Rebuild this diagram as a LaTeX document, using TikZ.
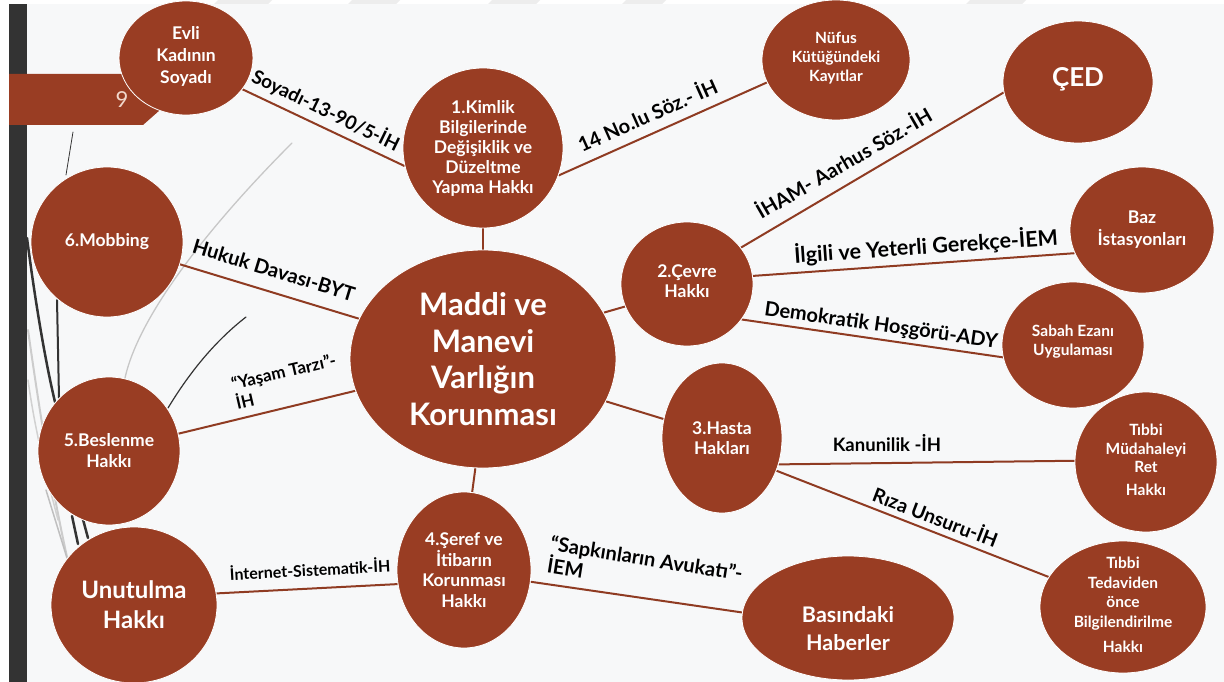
\documentclass[tikz,border=0pt]{standalone}
\usepackage{fontspec}
\setmainfont{Lato}
\usetikzlibrary{shapes.geometric,calc}
\definecolor{brn}{HTML}{993D23}
\definecolor{lnc}{HTML}{8F3B22}
\definecolor{slidebg}{HTML}{F7F8F9}
\definecolor{barc}{HTML}{333333}
\definecolor{tabtxt}{HTML}{F2D8CC}
\newcommand{\fsz}[2]{\bfseries\fontsize{#1}{#2}\selectfont}
\pgfdeclarelayer{back}
\pgfdeclarelayer{bg}
\pgfsetlayers{back,bg,main}
\begin{document}
\begin{tikzpicture}[x=1pt,y=-1pt,
  bub/.style={ellipse, fill=brn, draw=white, line width=0.8pt, inner sep=0pt},
  btxt/.style={text=white, align=center, inner sep=0pt},
  conn/.style={draw=lnc, line width=2pt},
  lbl/.style={text=black, inner sep=0pt},
  deco/.style={line cap=round}
]
\useasboundingbox (0,0) rectangle (1224,682);
\begin{pgfonlayer}{back}
  \fill[white] (0,0) rectangle (1224,682);
  \fill[slidebg] (27,4) rectangle (1224,682);
  \fill[black!7] (218,0) -- (272,0) -- (268,4) -- (214,4) -- cycle;
  \fill[black!7] (352,0) -- (400,0) -- (396,4) -- (348,4) -- cycle;
  \fill[black!7] (492,0) -- (540,0) -- (536,4) -- (488,4) -- cycle;
  \fill[black!7] (626,0) -- (666,0) -- (662,4) -- (622,4) -- cycle;
  \fill[black!7] (970,0) -- (1026,0) -- (1022,4) -- (966,4) -- cycle;
  \fill[barc] (9,4) rectangle (27,682);
  % decorative strokes
  \draw[deco, black!22, line width=1.3pt] (292,143) .. controls (220,215) and (140,310) .. (125,378);
  \draw[deco, barc, line width=1.2pt] (246,317) .. controls (210,345) and (185,380) .. (168,408);
  \draw[deco, barc, line width=0.8pt] (73,132) -- (66,175);
  \draw[deco, barc, line width=2.5pt] (27,238) .. controls (35,300) and (45,360) .. (55,402);
  \draw[deco, barc, line width=2pt] (57,300) -- (59,398);
  \draw[deco, black!20, line width=2pt] (28,330) .. controls (38,400) and (50,480) .. (67,557);
  \draw[deco, black!18, line width=1.5pt] (28,380) .. controls (35,430) and (45,470) .. (58,520);
  \draw[deco, black!25, line width=1.5pt] (46,490) -- (67,558);
  \draw[deco, barc, line width=2.5pt] (72,516) -- (78,544);
  \draw[deco, barc, line width=2.5pt] (81,512) -- (88,538);
  % page tab
  \fill[brn] (9,74) -- (160,74) -- (160,110) -- (143,125) -- (9,125) -- cycle;
\end{pgfonlayer}
\node[text=tabtxt, inner sep=0pt, font=\fontsize{22}{22}\selectfont] (pgnum) at (122,100) {9};

% bubbles
\node[bub, minimum width=134pt, minimum height=114pt] (evli) at (186,58) {};
\node[bub, minimum width=160pt, minimum height=160pt] (kimlik) at (483,148) {};
\node[bub, minimum width=148pt, minimum height=120pt] (nufus) at (836,60) {};
\node[bub, minimum width=150pt, minimum height=122pt] (ced) at (1078,82) {};
\node[bub, minimum width=144pt, minimum height=126pt] (baz) at (1142,230) {};
\node[bub, minimum width=142pt, minimum height=126pt] (sabah) at (1073,345) {};
\node[bub, minimum width=142pt, minimum height=140pt] (mudahale) at (1146,462) {};
\node[bub, minimum width=166pt, minimum height=132pt] (tedavi) at (1123,607) {};
\node[bub, minimum width=212pt, minimum height=124pt] (basin) at (848,618) {};
\node[bub, minimum width=120pt, minimum height=150pt] (hasta) at (722,438) {};
\node[bub, minimum width=132pt, minimum height=124pt] (cevre) at (687,284) {};
\node[bub, minimum width=266pt, minimum height=218pt] (center) at (483,359) {};
\node[bub, minimum width=134pt, minimum height=156pt] (seref) at (464,570) {};
\node[bub, minimum width=166pt, minimum height=156pt] (unutulma) at (134,605) {};
\node[bub, minimum width=142pt, minimum height=148pt] (beslenme) at (109,451) {};
\node[bub, minimum width=152pt, minimum height=150pt] (mobbing) at (107,242) {};

% bubble texts
\node[btxt, font=\fsz{17.5}{22}] (evli-t) at ($(evli)+(0,-2)$) {Evli\\Kadının\\Soyadı};
\node[btxt, font=\fsz{17.5}{20}] (kimlik-t) at (kimlik) {1.Kimlik\\Bilgilerinde\\Değişiklik ve\\Düzeltme\\Yapma Hakkı};
\node[btxt, font=\fsz{15.5}{19}] (nufus-t) at ($(nufus)+(0,-2)$) {Nüfus\\Kütüğündeki\\Kayıtlar};
\node[btxt, font=\fsz{26}{30}] (ced-t) at ($(ced)+(0,-3)$) {ÇED};
\node[btxt, font=\fsz{17.5}{22}] (baz-t) at (baz) {Baz\\İstasyonları};
\node[btxt, font=\fsz{15.5}{19}] (sabah-t) at ($(sabah)+(0,-3)$) {Sabah Ezanı\\Uygulaması};
\node[btxt, font=\fsz{15.5}{18.5}] (mudahale-t) at ($(mudahale)+(0,-2)$) {Tıbbi\\Müdahaleyi\\Ret\\[4pt]Hakkı};
\node[btxt, font=\fsz{15.5}{19.5}] (tedavi-t) at ($(tedavi)+(0,-2)$) {Tıbbi\\Tedaviden\\önce\\Bilgilendirilme\\[6pt]Hakkı};
\node[btxt, font=\fsz{21.5}{28}] (basin-t) at ($(basin)+(0,11)$) {Basındaki\\Haberler};
\node[btxt, font=\fsz{17.5}{20}] (hasta-t) at (hasta) {3.Hasta\\Hakları};
\node[btxt, font=\fsz{17.5}{20}] (cevre-t) at ($(cevre)+(0,-3)$) {2.Çevre\\Hakkı};
\node[btxt, font=\fsz{31}{36.5}] (center-t) at (center) {Maddi ve\\Manevi\\Varlığın\\Korunması};
\node[btxt, font=\fsz{17.5}{20.5}] (seref-t) at (seref) {4.Şeref ve\\İtibarın\\Korunması\\Hakkı};
\node[btxt, font=\fsz{24}{30}] (unutulma-t) at (unutulma) {Unutulma\\Hakkı};
\node[btxt, font=\fsz{17.5}{21}] (beslenme-t) at (beslenme) {5.Beslenme\\Hakkı};
\node[btxt, font=\fsz{17.5}{20}] (mobbing-t) at (mobbing) {6.Mobbing};

% connectors
\begin{pgfonlayer}{bg}
  \draw[conn] (evli.-29) -- (kimlik.193);
  \draw[conn] (kimlik.-20) -- (nufus.198);
  \draw[conn] (kimlik.-90) -- (center.90);
  \draw[conn] (mobbing.-17) -- (center.162);
  \draw[conn] (beslenme.14) -- (center.194);
  \draw[conn] (center.-94) -- (seref.84);
  \draw[conn] (unutulma.8) -- (seref.192);
  \draw[conn] (seref.-10) -- (basin.177);
  \draw[conn] (center.21) -- (cevre.200);
  \draw[conn] (center.-19) -- (hasta.162);
  \draw[conn] (cevre.34) -- (ced.188);
  \draw[conn] (cevre.7) -- (baz.199);
  \draw[conn] (cevre.-33) -- (sabah.190);
  \draw[conn] (hasta.-25) -- (mudahale.179);
  \draw[conn] (hasta.-31) -- (tedavi.158);
\end{pgfonlayer}

% connector labels
\node[lbl, font=\fsz{19}{21}, rotate=-26] (l-soy) at (326,110) {Soyadı-13-90/5-İH};
\node[lbl, font=\fsz{20}{22}, rotate=24] (l-14) at (647,114) {14 No.lu Söz.- İH};
\node[lbl, font=\fsz{20}{22}, rotate=30] (l-iham) at (843,162) {İHAM- Aarhus Söz.-İH};
\node[lbl, font=\fsz{21.5}{23}, rotate=4] (l-ilg) at (926,246) {İlgili ve Yeterli Gerekçe-İEM};
\node[lbl, font=\fsz{20}{22}, rotate=-8] (l-dem) at (881,326) {Demokratik Hoşgörü-ADY};
\node[lbl, font=\fsz{18.5}{20}] (l-kan) at (887,443) {Kanunilik -İH};
\node[lbl, font=\fsz{19.5}{21}, rotate=-21] (l-riza) at (936,516) {Rıza Unsuru-İH};
\node[lbl, font=\fsz{20}{22}, rotate=-9, anchor=north west, align=left] (l-sap) at (552,535) {“Sapkınların Avukatı”-\\İEM};
\node[lbl, font=\fsz{17}{20}, rotate=13, anchor=north west, align=left] (l-yas) at (230,377) {“Yaşam Tarzı”-\\İH};
\node[lbl, font=\fsz{20}{22}, rotate=-17] (l-huk) at (274,270) {Hukuk Davası-BYT};
\node[lbl, font=\fsz{16}{18}, rotate=3] (l-int) at (310,569) {İnternet-Sistematik-İH};
\end{tikzpicture}
\end{document}
